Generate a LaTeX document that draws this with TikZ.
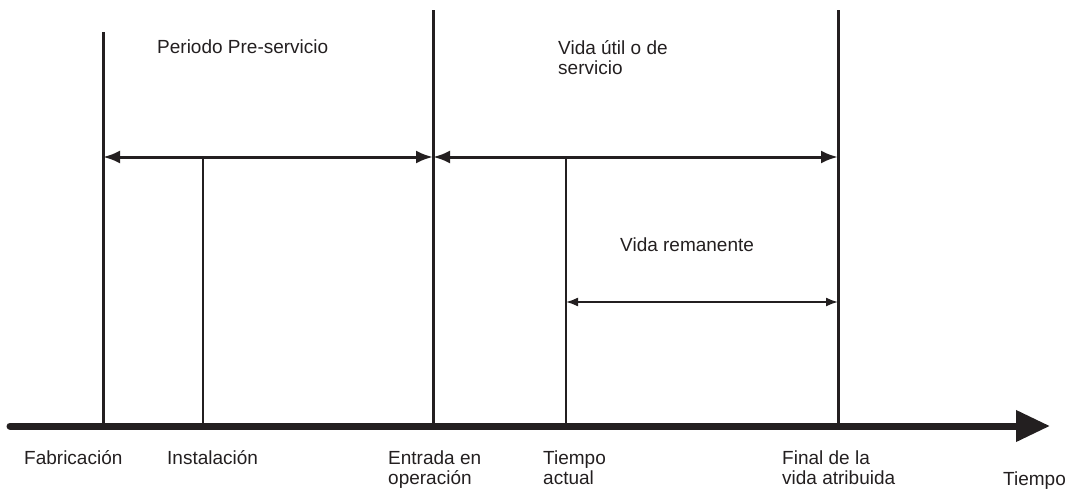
\documentclass[tikz,border=0pt]{standalone}
\usepackage{fontspec}
\setmainfont{Liberation Sans}
\usetikzlibrary{arrows.meta}
\definecolor{ink}{HTML}{231F20}
\begin{document}
\begin{tikzpicture}[x=1pt, y=-1pt,
    every node/.style={inner sep=0pt, text=ink, align=left, anchor=base west, font=\fontsize{19}{20}\selectfont},
    hito/.style={line width=3pt, ink},
    marca/.style={line width=1.4pt, ink},
    tramo/.style={line width=3pt, ink, {Latex[length=17pt,width=13pt]}-{Latex[length=17pt,width=13pt]}},
    resto/.style={line width=1.7pt, ink, {Latex[length=12pt,width=9pt]}-{Latex[length=12pt,width=9pt]}}]
    \useasboundingbox (0,0) rectangle (1065,488);
    % puntos del eje
    \coordinate (origen) at (10,426);
    \coordinate (tiempo) at (1050,426);
    \coordinate (fab) at (103,426);
    \coordinate (ins) at (203,426);
    \coordinate (ent) at (433,426);
    \coordinate (act) at (566,426);
    \coordinate (fin) at (838,426);
    \coordinate (fabtop) at (103,32);
    \coordinate (enttop) at (433,10);
    \coordinate (fintop) at (838,10);
    \coordinate (instop) at (203,157);
    \coordinate (acttop) at (566,157);
    \coordinate (rem) at (566,302);
    % lineas verticales
    \draw[hito] (fab) -- (fabtop);
    \draw[hito] (ent) -- (enttop);
    \draw[hito] (fin) -- (fintop);
    \draw[marca] (ins) -- (instop);
    \draw[marca] (act) -- (acttop);
    % flechas de periodos
    \draw[tramo] (fab |- instop) -- (ent |- instop);
    \draw[tramo] (ent |- instop) -- (fin |- instop);
    \draw[resto] (rem) -- (fin |- rem);
    % eje de tiempo
    \draw[line width=7pt, ink, line cap=round, -{Triangle[length=34pt,width=30pt]}] (origen) -- (tiempo);
    % textos (base = ultima linea)
    \node (pre) at (157,53) {Periodo Pre-servicio};
    \node (util) at (558,74) {Vida útil o de\\servicio};
    \node (remanente) at (620,251) {Vida remanente};
    \node (fabricacion) at (24,464) {Fabricación};
    \node (instalacion) at (167,464) {Instalación};
    \node (entrada) at (388,484) {Entrada en\\operación};
    \node (actual) at (543,484) {Tiempo\\actual};
    \node (final) at (782,484) {Final de la\\vida atribuida};
    \node (eje) at (1003,485) {Tiempo};
\end{tikzpicture}
\end{document}
